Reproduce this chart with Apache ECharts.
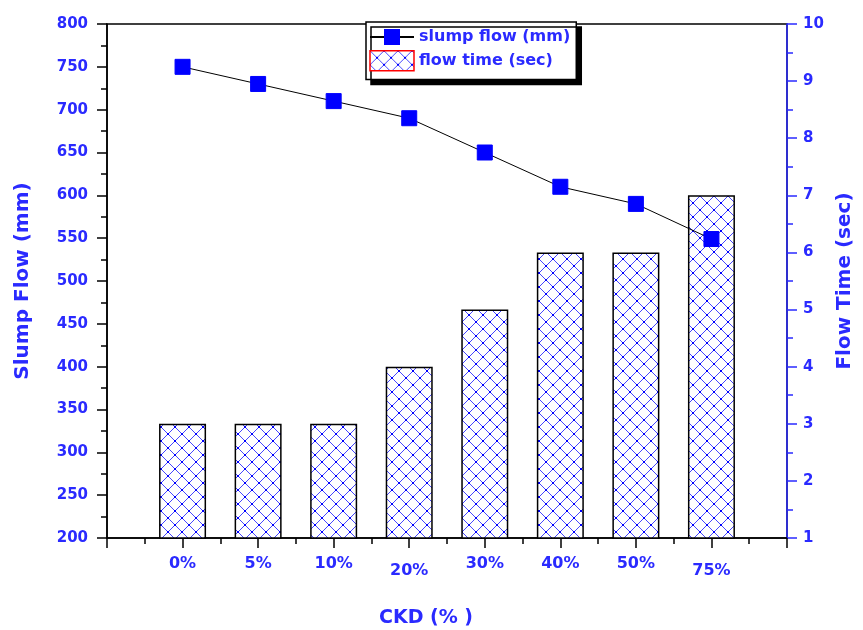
<!DOCTYPE html>
<html>
<head>
<meta charset="utf-8">
<script src="https://cdn.jsdelivr.net/npm/echarts@6/dist/echarts.min.js"></script>
<style>html,body{margin:0;padding:0;background:#fff}#c{width:863px;height:630px}</style>
</head>
<body>
<div id="c"></div>
<script>
const categories = ['0%', '5%', '10%', '20%', '30%', '40%', '50%', '75%'];
const slumpFlow = [750, 730, 710, 690, 650, 610, 590, 549];
const flowTime = [3, 3, 3, 4, 5, 6, 6, 7];
const lowLabels = ['20%', '75%'];

const BLUE = '#0000ff';
const TXT = '#2a2aff';
const FONT = '"DejaVu Sans", Verdana, sans-serif';

// hatch pattern
const pc = document.createElement('canvas');
const P = 14;
pc.width = P; pc.height = P;
const g = pc.getContext('2d');
g.fillStyle = '#fff'; g.fillRect(0, 0, P, P);
g.strokeStyle = '#4646ff'; g.lineWidth = 1;
g.beginPath(); g.moveTo(0, 0); g.lineTo(P, P); g.moveTo(P, 0); g.lineTo(0, P); g.stroke();
g.fillStyle = BLUE;
[[0,0],[P,0],[0,P],[P,P],[P/2,P/2]].forEach(function(p){ g.fillRect(p[0]-1, p[1]-1, 2, 2); });
const hatch = { image: pc, repeat: 'repeat' };

const chart = echarts.init(document.getElementById('c'), null, { renderer: 'canvas' });
const lab = { color: TXT, fontFamily: FONT, fontWeight: 'bold', fontSize: 15 };

chart.setOption({
  animation: false,
  backgroundColor: '#fff',
  grid: { left: 107, right: 76, top: 24, bottom: 92, show: true, borderColor: '#000', borderWidth: 1.5, backgroundColor: 'transparent', outerBoundsMode: 'none', containLabel: false },
  legend: {
    orient: 'vertical', left: 366, top: 22,
    padding: [7, 6, 8, 3], itemGap: 5, itemWidth: 44, itemHeight: 20,
    backgroundColor: '#fff', borderColor: '#000', borderWidth: 1.5,
    shadowColor: '#000', shadowBlur: 0, shadowOffsetX: 5, shadowOffsetY: 5,
    textStyle: { color: TXT, fontFamily: FONT, fontWeight: 'bold', fontSize: 16 },
    data: [
      { name: 'slump flow (mm)' },
      { name: 'flow time (sec)', icon: 'rect', itemStyle: { borderColor: '#ff0000', borderWidth: 1.5 } }
    ]
  },
  xAxis: {
    type: 'value', min: -1, max: 8, interval: 1,
    axisLine: { onZero: false, lineStyle: { color: '#000', width: 1.5 } },
    axisTick: { inside: false, length: 10, lineStyle: { color: '#000', width: 1.5 } },
    minorTick: { show: true, splitNumber: 2, length: 6, lineStyle: { color: '#000', width: 1.5 } },
    splitLine: { show: false },
    axisLabel: {
      margin: 18,
      formatter: function (v) {
        const i = Math.round(v);
        if (i < 0 || i >= categories.length) return '';
        const c = categories[i];
        return lowLabels.indexOf(c) >= 0 ? '{b|' + c + '}' : '{a|' + c + '}';
      },
      rich: {
        a: Object.assign({}, lab, { fontSize: 16 }),
        b: Object.assign({}, lab, { fontSize: 16, padding: [7, 0, 0, 0] })
      }
    },
    name: 'CKD (% )', nameLocation: 'middle', nameGap: 71,
    nameTextStyle: { color: TXT, fontFamily: FONT, fontWeight: 'bold', fontSize: 19, padding: [0, 42, 0, 0] }
  },
  yAxis: [
    {
      type: 'value', min: 200, max: 800, interval: 50, position: 'left',
      axisLine: { show: true, onZero: false, lineStyle: { color: '#000', width: 1.5 } },
      axisTick: { show: true, length: 10, lineStyle: { color: '#000', width: 1.5 } },
      minorTick: { show: true, splitNumber: 2, length: 6, lineStyle: { color: '#000', width: 1.5 } },
      splitLine: { show: false },
      axisLabel: Object.assign({ margin: 19 }, lab),
      name: 'Slump Flow (mm)', nameLocation: 'middle', nameGap: 74,
      nameTextStyle: { color: TXT, fontFamily: FONT, fontWeight: 'bold', fontSize: 20 }
    },
    {
      type: 'value', min: 1, max: 10, interval: 1, position: 'right',
      axisLine: { show: true, onZero: false, lineStyle: { color: '#2a2aff', width: 1.5 } },
      axisTick: { show: true, length: 10, lineStyle: { color: '#2a2aff', width: 1.5 } },
      minorTick: { show: true, splitNumber: 2, length: 6, lineStyle: { color: '#2a2aff', width: 1.5 } },
      splitLine: { show: false },
      axisLabel: Object.assign({ margin: 16 }, lab),
      name: 'Flow Time (sec)', nameLocation: 'middle', nameGap: 48,
      nameTextStyle: { color: TXT, fontFamily: FONT, fontWeight: 'bold', fontSize: 20 }
    }
  ],
  series: [
    {
      name: 'flow time (sec)', type: 'bar', yAxisIndex: 1, barWidth: 47, z: 2,
      itemStyle: { color: hatch, borderColor: '#000', borderWidth: 1.5 },
      data: flowTime.map(function (v, i) { return [i, v]; })
    },
    {
      name: 'slump flow (mm)', type: 'line', yAxisIndex: 0, z: 5,
      symbol: 'rect', symbolSize: 15,
      lineStyle: { color: '#000', width: 1 },
      itemStyle: { color: BLUE, borderColor: BLUE },
      data: slumpFlow.map(function (v, i) { return [i, v]; })
    }
  ]
});
</script>
</body>
</html>
